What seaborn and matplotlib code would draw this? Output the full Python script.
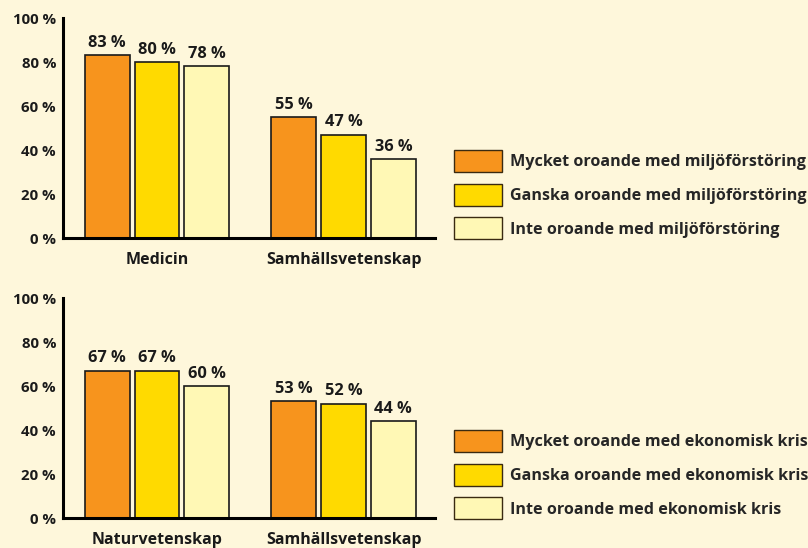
import matplotlib
matplotlib.use("Agg")
import matplotlib.pyplot as plt
from matplotlib.patches import Patch
import seaborn as sns
import pandas as pd

# values (percent)
categories_top = ["Medicin", "Samhällsvetenskap"]
mycket_miljo = [83, 55]
ganska_miljo = [80, 47]
inte_miljo = [78, 36]
labels_top = ["Mycket oroande med miljöförstöring",
              "Ganska oroande med miljöförstöring",
              "Inte oroande med miljöförstöring"]

categories_bottom = ["Naturvetenskap", "Samhällsvetenskap"]
mycket_ekon = [67, 53]
ganska_ekon = [67, 52]
inte_ekon = [60, 44]
labels_bottom = ["Mycket oroande med ekonomisk kris",
                 "Ganska oroande med ekonomisk kris",
                 "Inte oroande med ekonomisk kris"]

y_ticks = [0, 20, 40, 60, 80, 100]
y_ticklabels = ["0 %", "20 %", "40 %", "60 %", "80 %", "100 %"]

bg = "#fef7db"
colors = ["#f7941d", "#ffda00", "#fff8b5"]
ink = "#1a1a1a"

sns.set_theme(style="white")
plt.rcParams["font.family"] = ["Open Sans", "DejaVu Sans"]
plt.rcParams["font.weight"] = "bold"


def make_df(categories, series, labels):
    rows = []
    for lab, vals in zip(labels, series):
        for cat, v in zip(categories, vals):
            rows.append({"omrade": cat, "grupp": lab, "andel": v})
    return pd.DataFrame(rows)


def draw_panel(ax, df, labels, legend_top):
    sns.barplot(data=df, x="omrade", y="andel", hue="grupp", hue_order=labels,
                palette=colors, saturation=1, width=0.8, gap=0.1,
                edgecolor=ink, linewidth=1.2, legend=False, ax=ax)
    for cont in ax.containers:
        ax.bar_label(cont, fmt="%d %%", padding=3, fontsize=11.8,
                     fontweight="bold", color=ink)
    ax.set_facecolor(bg)
    ax.set_ylim(0, 100)
    ax.set_xlim(-0.504, 1.49)
    ax.set_yticks(y_ticks)
    ax.set_yticklabels(y_ticklabels, fontsize=10.8, fontweight="bold", color=ink)
    ax.tick_params(axis="y", length=0, pad=5)
    ax.tick_params(axis="x", length=0, pad=10, labelsize=11.5, labelcolor=ink)
    for t in ax.get_xticklabels():
        t.set_fontweight("bold")
    ax.set_xlabel("")
    ax.set_ylabel("")
    sns.despine(ax=ax)
    for side in ["left", "bottom"]:
        ax.spines[side].set_color("black")
        ax.spines[side].set_linewidth(2.2)

    handles = [Patch(facecolor=c, edgecolor="#3a2a10", linewidth=1.0) for c in colors]
    fig.legend(handles, labels, loc="upper left",
               bbox_to_anchor=(454 / 808, legend_top), frameon=False,
               borderpad=0, borderaxespad=0,
               handlelength=3.0, handleheight=1.72, handletextpad=0.5,
               labelspacing=0.73, prop={"weight": "bold", "size": 11.6})


fig = plt.figure(figsize=(8.08, 5.48), dpi=100)
fig.patch.set_facecolor(bg)
ax1 = fig.add_axes([63 / 808, 1 - 238 / 548, 372 / 808, 220 / 548])
ax2 = fig.add_axes([63 / 808, 1 - 518 / 548, 372 / 808, 220 / 548])

draw_panel(ax1, make_df(categories_top, [mycket_miljo, ganska_miljo, inte_miljo], labels_top),
           labels_top, 1 - 150 / 548)
draw_panel(ax2, make_df(categories_bottom, [mycket_ekon, ganska_ekon, inte_ekon], labels_bottom),
           labels_bottom, 1 - 430 / 548)

fig.savefig("out.png", dpi=100, facecolor=bg)
